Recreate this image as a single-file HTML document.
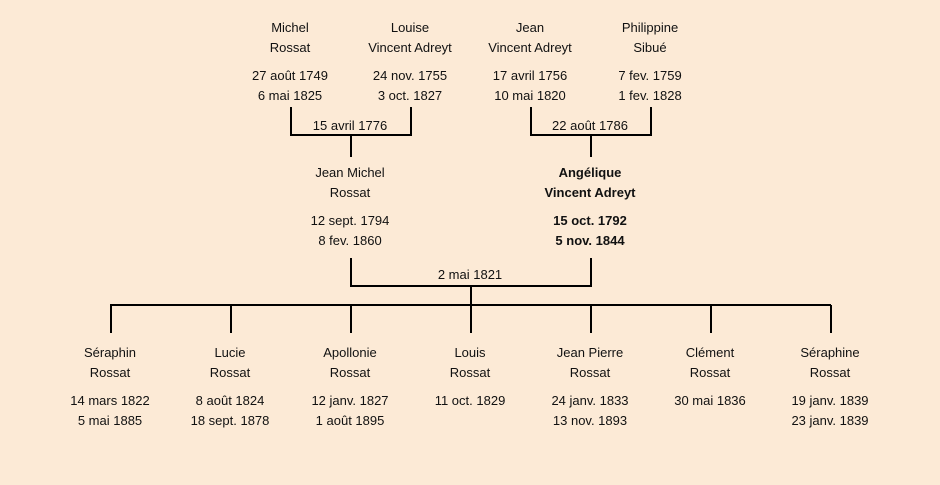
<!DOCTYPE html>
<html><head><meta charset="utf-8"><style>
html,body{margin:0;padding:0;}
body{width:940px;height:485px;background:#fcead6;position:relative;overflow:hidden;font-family:"Liberation Sans",sans-serif;font-size:13px;color:#111;}
.t{position:absolute;width:140px;margin-left:-70px;text-align:center;line-height:20px;white-space:nowrap;}
.b{font-weight:bold;}
svg{position:absolute;left:0;top:0;}
</style></head><body>
<svg width="940" height="485"><g stroke="#000" stroke-width="2" fill="none">
<path d="M291 107V135H411V107M351 135V157"/>
<path d="M531 107V135H651V107M591 135V157"/>
<path d="M351 258V286H591V258M471 286V305"/>
<path d="M110 305H831"/>
<path d="M111 305V333M231 305V333M351 305V333M471 305V333M591 305V333M711 305V333M831 305V333"/>
</g></svg>
<div class="t" style="left:290px;top:18px">Michel<br>Rossat</div>
<div class="t" style="left:290px;top:66px">27 août 1749<br>6 mai 1825</div>
<div class="t" style="left:410px;top:18px">Louise<br>Vincent Adreyt</div>
<div class="t" style="left:410px;top:66px">24 nov. 1755<br>3 oct. 1827</div>
<div class="t" style="left:530px;top:18px">Jean<br>Vincent Adreyt</div>
<div class="t" style="left:530px;top:66px">17 avril 1756<br>10 mai 1820</div>
<div class="t" style="left:650px;top:18px">Philippine<br>Sibué</div>
<div class="t" style="left:650px;top:66px">7 fev. 1759<br>1 fev. 1828</div>
<div class="t" style="left:350px;top:116px">15 avril 1776</div>
<div class="t" style="left:590px;top:116px">22 août 1786</div>
<div class="t" style="left:350px;top:163px">Jean Michel<br>Rossat</div>
<div class="t" style="left:350px;top:211px">12 sept. 1794<br>8 fev. 1860</div>
<div class="t b" style="left:590px;top:163px">Angélique<br>Vincent Adreyt</div>
<div class="t b" style="left:590px;top:211px">15 oct. 1792<br>5 nov. 1844</div>
<div class="t" style="left:470px;top:265px">2 mai 1821</div>
<div class="t" style="left:110px;top:343px">Séraphin<br>Rossat</div>
<div class="t" style="left:110px;top:391px">14 mars 1822<br>5 mai 1885</div>
<div class="t" style="left:230px;top:343px">Lucie<br>Rossat</div>
<div class="t" style="left:230px;top:391px">8 août 1824<br>18 sept. 1878</div>
<div class="t" style="left:350px;top:343px">Apollonie<br>Rossat</div>
<div class="t" style="left:350px;top:391px">12 janv. 1827<br>1 août 1895</div>
<div class="t" style="left:470px;top:343px">Louis<br>Rossat</div>
<div class="t" style="left:470px;top:391px">11 oct. 1829</div>
<div class="t" style="left:590px;top:343px">Jean Pierre<br>Rossat</div>
<div class="t" style="left:590px;top:391px">24 janv. 1833<br>13 nov. 1893</div>
<div class="t" style="left:710px;top:343px">Clément<br>Rossat</div>
<div class="t" style="left:710px;top:391px">30 mai 1836</div>
<div class="t" style="left:830px;top:343px">Séraphine<br>Rossat</div>
<div class="t" style="left:830px;top:391px">19 janv. 1839<br>23 janv. 1839</div>
</body></html>
